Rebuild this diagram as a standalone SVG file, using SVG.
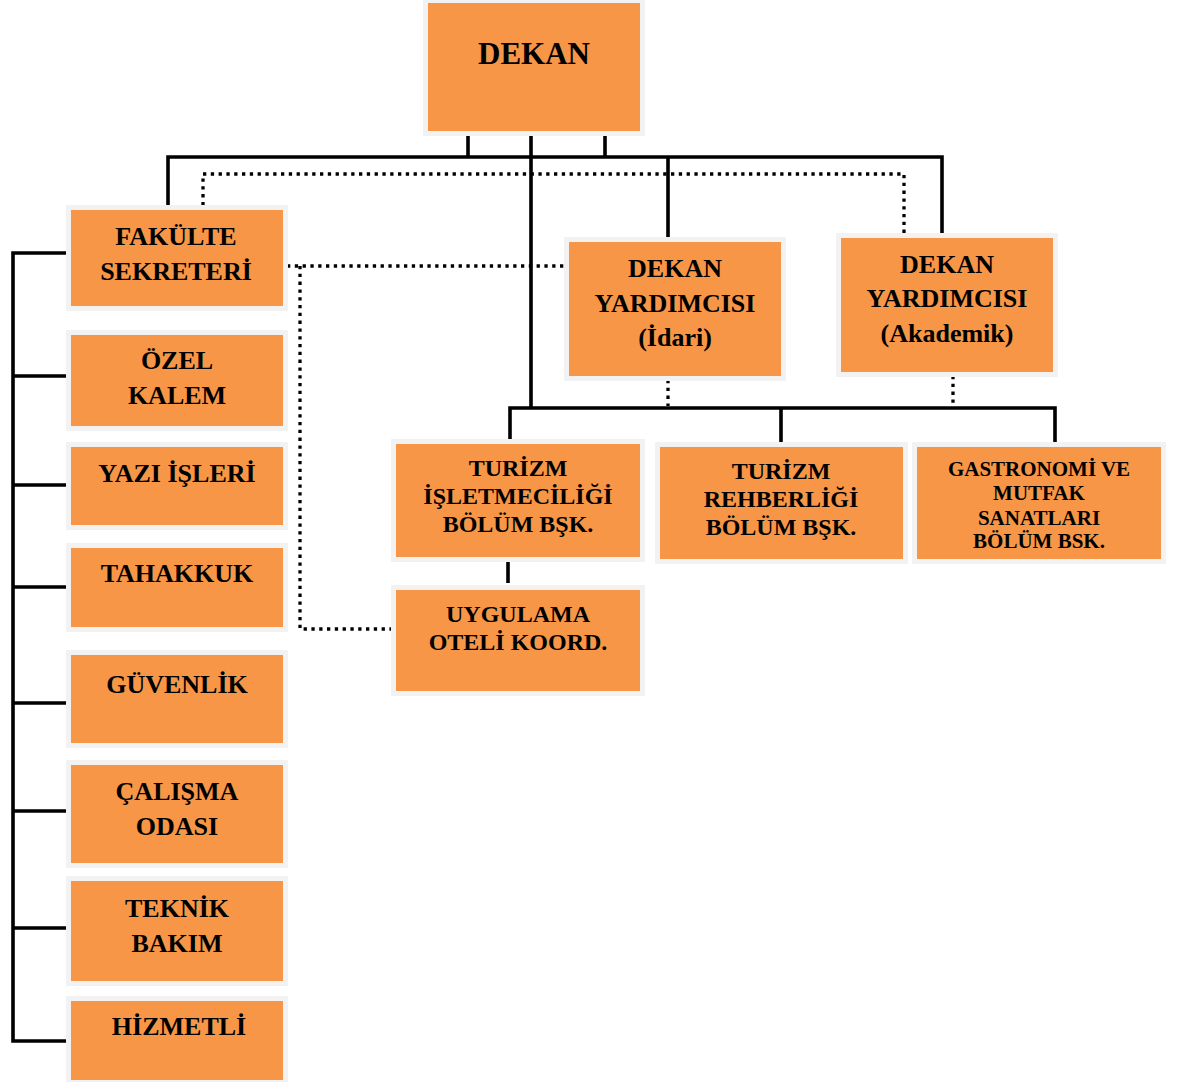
<svg xmlns="http://www.w3.org/2000/svg" width="1180" height="1082" viewBox="0 0 1180 1082">
<style>
.box{fill:#f79646;stroke:#f2f2f2;stroke-width:5}
.t{font-family:"Liberation Serif","Times New Roman",serif;font-weight:bold;fill:#000;text-anchor:middle}
.f26{font-size:26px}
.f24{font-size:24px}
.f21{font-size:21px}
.solid{fill:none;stroke:#000;stroke-width:3.6}
.dot{fill:none;stroke:#000;stroke-width:3.3;stroke-dasharray:3.3 4.5}
</style>
<rect width="1180" height="1082" fill="#fff"/>
<g id="connectors">
<path class="solid" d="M468,131V157M605,134V157M531,131V408M168,206V157H942V234M668,157V238"/>
<path class="solid" d="M510,441V408H1055V443M781,408V443M508,561V583"/>
<path class="solid" d="M67,253H13V1041H68M13,376H68M13,485H68M13,587H68M13,703H68M13,811H68M13,928H68"/>
<path class="dot" d="M203,213V174H904V238"/>
<path class="dot" d="M287,266H566M300,266V629H392"/>
<path class="dot" d="M668,380V406M953,376V406"/>
</g>
<g id="dekan">
<rect class="box" x="425.5" y="0.5" width="217" height="133"/>
<text class="t" x="534" y="64" font-size="31">DEKAN</text>
</g>
<g id="fakulte-sekreteri">
<rect class="box" x="68.5" y="207.5" width="217" height="101"/>
<text class="t f26" x="176" y="245">FAKÜLTE</text>
<text class="t f26" x="176" y="280">SEKRETERİ</text>
</g>
<g id="ozel-kalem">
<rect class="box" x="68.5" y="332.5" width="217" height="96"/>
<text class="t f26" x="177" y="369">ÖZEL</text>
<text class="t f26" x="177" y="404">KALEM</text>
</g>
<g id="yazi-isleri">
<rect class="box" x="68.5" y="444.5" width="217" height="83"/>
<text class="t f26" x="177" y="482">YAZI İŞLERİ</text>
</g>
<g id="tahakkuk">
<rect class="box" x="68.5" y="545.5" width="217" height="84"/>
<text class="t f26" x="177" y="582">TAHAKKUK</text>
</g>
<g id="guvenlik">
<rect class="box" x="68.5" y="652.5" width="217" height="93"/>
<text class="t f26" x="177" y="693">GÜVENLİK</text>
</g>
<g id="calisma-odasi">
<rect class="box" x="68.5" y="762.5" width="217" height="103"/>
<text class="t f26" x="177" y="800">ÇALIŞMA</text>
<text class="t f26" x="177" y="835">ODASI</text>
</g>
<g id="teknik-bakim">
<rect class="box" x="68.5" y="878.5" width="217" height="105"/>
<text class="t f26" x="177" y="917">TEKNİK</text>
<text class="t f26" x="177" y="952">BAKIM</text>
</g>
<g id="hizmetli">
<rect class="box" x="68.5" y="998.5" width="217" height="84"/>
<text class="t f26" x="179" y="1035">HİZMETLİ</text>
</g>
<g id="dekan-yardimcisi-idari">
<rect class="box" x="566.5" y="239.5" width="217" height="139"/>
<text class="t f26" x="675" y="277">DEKAN</text>
<text class="t f26" x="675" y="312">YARDIMCISI</text>
<text class="t f26" x="675" y="346">(İdari)</text>
</g>
<g id="dekan-yardimcisi-akademik">
<rect class="box" x="838.5" y="235.5" width="217" height="139"/>
<text class="t f26" x="947" y="273">DEKAN</text>
<text class="t f26" x="947" y="307">YARDIMCISI</text>
<text class="t f26" x="947" y="342">(Akademik)</text>
</g>
<g id="turizm-isletmeciligi">
<rect class="box" x="393.5" y="441.5" width="249" height="118"/>
<text class="t f24" x="518" y="476">TURİZM</text>
<text class="t f24" x="518" y="504">İŞLETMECİLİĞİ</text>
<text class="t f24" x="518" y="532">BÖLÜM BŞK.</text>
</g>
<g id="uygulama-oteli">
<rect class="box" x="393.5" y="587.5" width="249" height="106"/>
<text class="t f24" x="518" y="622">UYGULAMA</text>
<text class="t f24" x="518" y="650">OTELİ KOORD.</text>
</g>
<g id="turizm-rehberligi">
<rect class="box" x="657.5" y="444.5" width="248" height="117"/>
<text class="t f24" x="781" y="479">TURİZM</text>
<text class="t f24" x="781" y="507">REHBERLİĞİ</text>
<text class="t f24" x="781" y="535">BÖLÜM BŞK.</text>
</g>
<g id="gastronomi">
<rect class="box" x="914.5" y="444.5" width="249" height="117"/>
<text class="t f21" x="1039" y="476">GASTRONOMİ VE</text>
<text class="t f21" x="1039" y="500">MUTFAK</text>
<text class="t f21" x="1039" y="525">SANATLARI</text>
<text class="t f21" x="1039" y="548">BÖLÜM BSK.</text>
</g>
</svg>
